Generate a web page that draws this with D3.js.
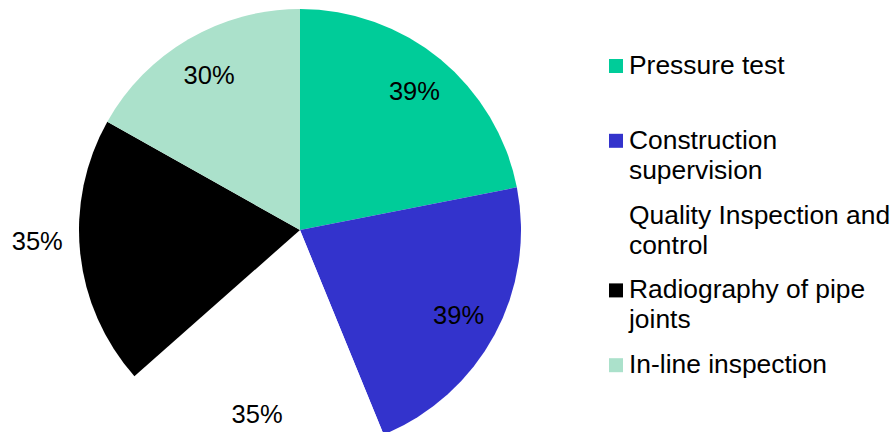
<!DOCTYPE html>
<html>
<head>
<meta charset="utf-8">
<script src="https://cdn.jsdelivr.net/npm/d3@7"></script>
<style>
  html, body { margin: 0; padding: 0; background: #fff; }
  svg { display: block; font-family: "Liberation Sans", Arial, sans-serif; }
</style>
</head>
<body>
<svg id="chart" width="893" height="432"></svg>
<script>
// Inspection services: share of responses per service
const categories = [
  "Pressure test",
  "Construction supervision",
  "Quality Inspection and control",
  "Radiography of pipe joints",
  "In-line inspection"
];
const values = [39, 39, 35, 35, 30];
const colors = ["#00CC99", "#3333CC", "#FFFFFF", "#000000", "#ABE1CB"];
// Legend text wrapped onto lines
const legendLines = [
  ["Pressure test"],
  ["Construction", "supervision"],
  ["Quality Inspection and", "control"],
  ["Radiography of pipe", "joints"],
  ["In-line inspection"]
];

const svg = d3.select("#chart");
const cx = 300, cy = 230, R = 221;

const data = categories.map((c, i) => ({ name: c, value: values[i], color: colors[i] }));

const pie = d3.pie().sort(null).value(d => d.value);
const arcs = pie(data);
const arc = d3.arc().innerRadius(0).outerRadius(R);

const g = svg.append("g").attr("transform", `translate(${cx},${cy})`);

g.selectAll("path.slice")
  .data(arcs)
  .join("path")
  .attr("class", "slice")
  .attr("d", arc)
  .attr("fill", d => d.data.color);

// Value labels: inside the slice, except on the black slice where they sit outside
const inner = d3.arc().innerRadius(R * 0.815).outerRadius(R * 0.815);
function labelPos(d) {
  if (d.data.color === "#000000") {
    const a = (d.startAngle + d.endAngle) / 2 + 0.065;
    const r = R + 42;
    return [r * Math.sin(a), -r * Math.cos(a)];
  }
  if (d.data.color === "#FFFFFF") {
    const a = (d.startAngle + d.endAngle) / 2;
    const r = R * 0.855;
    return [r * Math.sin(a), -r * Math.cos(a)];
  }
  return inner.centroid(d);
}

g.selectAll("text.val")
  .data(arcs)
  .join("text")
  .attr("class", "val")
  .attr("x", d => labelPos(d)[0])
  .attr("y", d => labelPos(d)[1])
  .attr("text-anchor", "middle")
  .attr("dominant-baseline", "central")
  .attr("font-size", 25.5)
  .attr("fill", "#000")
  .text(d => d.value + "%");

// Legend
const legendX = 609, legendTop = 74, legendStep = 74.8, lineH = 30, sw = 14;
const leg = svg.append("g");
const items = leg.selectAll("g.item")
  .data(data)
  .join("g")
  .attr("class", "item")
  .attr("transform", (d, i) => `translate(${legendX},${legendTop + i * legendStep})`);

items.append("rect")
  .attr("x", 0)
  .attr("y", -sw - 1)
  .attr("width", sw)
  .attr("height", sw)
  .attr("fill", d => d.color);

items.append("text")
  .attr("x", 20)
  .attr("y", 0)
  .attr("font-size", 26.4)
  .attr("fill", "#000")
  .each(function(d, i) {
    d3.select(this).selectAll("tspan")
      .data(legendLines[i])
      .join("tspan")
      .attr("x", 20)
      .attr("dy", (t, j) => j === 0 ? 0 : lineH)
      .text(t => t);
  });
</script>
</body>
</html>
